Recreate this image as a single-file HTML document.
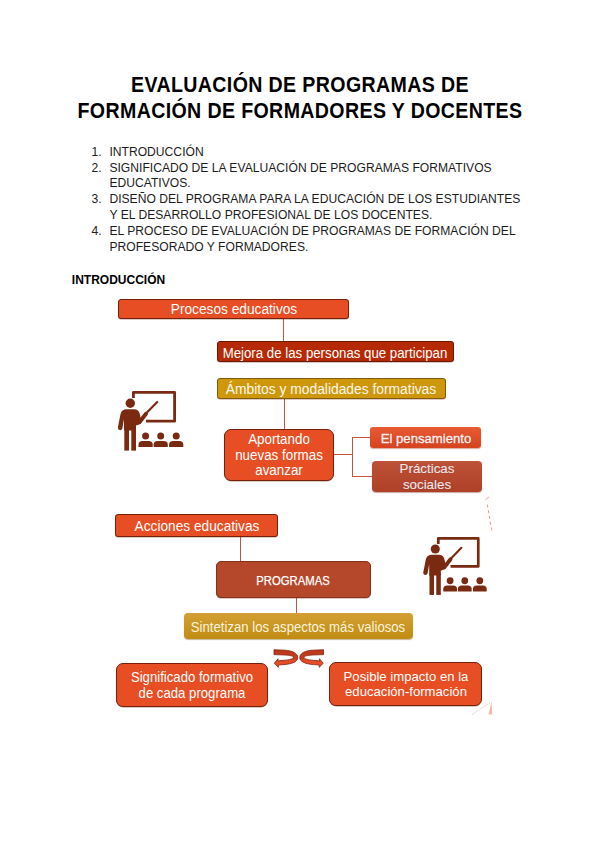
<!DOCTYPE html>
<html><head><meta charset="utf-8">
<style>
html,body{margin:0;padding:0;background:#fff;}
body{width:600px;height:848px;position:relative;overflow:hidden;font-family:"Liberation Sans",sans-serif;color:#000;}
.a{position:absolute;white-space:nowrap;}
.title{position:absolute;left:0;width:600px;text-align:center;font-weight:bold;font-size:22px;line-height:26px;top:71.8px;transform:scaleX(0.89);letter-spacing:0.42px;}
.li{position:absolute;color:#1c1c1c;font-size:12.1px;line-height:15.8px;white-space:nowrap;letter-spacing:0.02px;}
.num{position:absolute;color:#1c1c1c;font-size:12.1px;line-height:15.8px;left:91.6px;}
.box{position:absolute;box-sizing:border-box;}
.tl{position:absolute;width:600px;text-align:center;white-space:nowrap;}
.ln{position:absolute;background:#C5553A;}
</style></head>
<body>
<div class="title">EVALUACIÓN DE PROGRAMAS DE<br>FORMACIÓN DE FORMADORES Y DOCENTES</div>

<div class="num" style="top:144.8px">1.</div><div class="li" style="left:109.4px;top:144.8px">INTRODUCCIÓN</div>
<div class="num" style="top:160.6px">2.</div><div class="li" style="left:109.4px;top:160.6px">SIGNIFICADO DE LA EVALUACIÓN DE PROGRAMAS FORMATIVOS<br>EDUCATIVOS.</div>
<div class="num" style="top:192.2px">3.</div><div class="li" style="left:109.4px;top:192.2px">DISEÑO DEL PROGRAMA PARA LA EDUCACIÓN DE LOS ESTUDIANTES<br>Y EL DESARROLLO PROFESIONAL DE LOS DOCENTES.</div>
<div class="num" style="top:223.8px">4.</div><div class="li" style="left:109.4px;top:223.8px">EL PROCESO DE EVALUACIÓN DE PROGRAMAS DE FORMACIÓN DEL<br>PROFESORADO Y FORMADORES.</div>

<div class="a" style="left:71.8px;top:272.8px;font-size:12px;line-height:15px;font-weight:bold">INTRODUCCIÓN</div>

<div class="ln" style="left:283px;top:318px;width:1px;height:24px"></div>
<div class="ln" style="left:283.5px;top:398px;width:1px;height:31px"></div>
<div class="ln" style="left:334px;top:453.5px;width:18px;height:1px"></div>
<div class="ln" style="left:351.5px;top:437px;width:1px;height:40px"></div>
<div class="ln" style="left:352px;top:437px;width:19px;height:1px"></div>
<div class="ln" style="left:352px;top:476px;width:20px;height:1px"></div>
<div class="ln" style="left:239.5px;top:536px;width:1px;height:25px"></div>
<div class="ln" style="left:296px;top:597px;width:1px;height:16px"></div>
<div class="box" style="left:118px;top:299px;width:231px;height:20px;background:#E84E24;border:1px solid #74200A;border-radius:3px;box-shadow:0 0.6px 0.6px rgba(90,25,5,.45);"></div>
<div class="box" style="left:216.8px;top:341.2px;width:237.4px;height:21.3px;background:#B52A04;border:1px solid #6A1806;border-radius:3px;box-shadow:0 0.6px 0.6px rgba(90,25,5,.45);"></div>
<div class="box" style="left:216.8px;top:378.1px;width:229px;height:20.5px;background:#CE970C;border:1px solid #7E5A0A;border-radius:3px;box-shadow:0 0.6px 0.6px rgba(90,25,5,.45);"></div>
<div class="box" style="left:224px;top:429px;width:110px;height:52px;background:#E84E24;border:1px solid #74200A;border-radius:7px;box-shadow:0 0.6px 0.6px rgba(90,25,5,.45);"></div>
<div class="box" style="left:370px;top:427px;width:111px;height:21px;background:linear-gradient(#E85A34,#D5431F);border-radius:3px;box-shadow:0 1px 1px rgba(150,50,20,.4);"></div>
<div class="box" style="left:371.5px;top:461px;width:110.5px;height:31px;background:linear-gradient(#BE5237,#AD4027);border-radius:4px;box-shadow:0 1px 1px rgba(120,40,20,.4);"></div>
<div class="box" style="left:115px;top:513.9px;width:162.9px;height:23.3px;background:#E84E24;border:1px solid #74200A;border-radius:3px;box-shadow:0 0.6px 0.6px rgba(90,25,5,.45);"></div>
<div class="box" style="left:215.5px;top:561px;width:155.3px;height:36.8px;background:#B5472A;border:1px solid #86301A;border-radius:5px;box-shadow:0 0.6px 0.6px rgba(90,25,5,.45);"></div>
<div class="box" style="left:184px;top:613px;width:228.6px;height:26px;background:linear-gradient(#D4A035,#C08C12);border-radius:4px;box-shadow:0 1px 1px rgba(120,80,0,.4);"></div>
<div class="box" style="left:115.5px;top:662.5px;width:152.5px;height:44px;background:#E84E24;border:1px solid #74200A;border-radius:7px;box-shadow:0 0.6px 0.6px rgba(90,25,5,.45);"></div>
<div class="box" style="left:328.9px;top:662px;width:153.1px;height:43.6px;background:#E84E24;border:1px solid #74200A;border-radius:7px;box-shadow:0 0.6px 0.6px rgba(90,25,5,.45);"></div>
<div class="tl" style="left:-66.50px;top:299.15px;font-size:14.58px;line-height:20px;transform:scaleX(0.940);color:#fff;">Procesos educativos</div>
<div class="tl" style="left:34.50px;top:342.66px;font-size:14.26px;line-height:20px;transform:scaleX(0.930);color:#fff;">Mejora de las personas que participan</div>
<div class="tl" style="left:31.40px;top:378.95px;font-size:14.86px;line-height:20px;transform:scaleX(0.930);color:#FFF9EC;">Ámbitos y modalidades formativas</div>
<div class="tl" style="left:-21.00px;top:429.41px;font-size:14.39px;line-height:20px;transform:scaleX(0.930);color:#fff;">Aportando</div>
<div class="tl" style="left:-21.00px;top:445.01px;font-size:14.39px;line-height:20px;transform:scaleX(0.930);color:#fff;">nuevas formas</div>
<div class="tl" style="left:-21.00px;top:460.21px;font-size:14.39px;line-height:20px;transform:scaleX(0.930);color:#fff;">avanzar</div>
<div class="tl" style="left:125.50px;top:428.50px;font-size:13.00px;line-height:20px;transform:scaleX(1.010);color:#FBEFEF;-webkit-text-stroke:0.35px #FBEFEF;text-shadow:0 0 1px rgba(120,30,10,.6);">El pensamiento</div>
<div class="tl" style="left:126.50px;top:459.13px;font-size:13.20px;line-height:20px;transform:scaleX(1.010);color:#F4E6EC;-webkit-text-stroke:0.15px #F4E6EC;text-shadow:0 0 1px rgba(90,20,10,.6);">Prácticas</div>
<div class="tl" style="left:126.50px;top:474.93px;font-size:13.20px;line-height:20px;transform:scaleX(1.010);color:#F4E6EC;-webkit-text-stroke:0.15px #F4E6EC;text-shadow:0 0 1px rgba(90,20,10,.6);">sociales</div>
<div class="tl" style="left:-103.50px;top:515.90px;font-size:14.72px;line-height:20px;transform:scaleX(0.930);color:#fff;">Acciones educativas</div>
<div class="tl" style="left:-7.50px;top:570.72px;font-size:12.65px;line-height:20px;transform:scaleX(0.895);color:#fff;-webkit-text-stroke:0.25px #fff;">PROGRAMAS</div>
<div class="tl" style="left:-1.70px;top:617.09px;font-size:14.17px;line-height:20px;transform:scaleX(0.930);color:#FCF4DE;">Sintetizan los aspectos más valiosos</div>
<div class="tl" style="left:-108.50px;top:667.29px;font-size:14.17px;line-height:20px;transform:scaleX(0.930);color:#fff;">Significado formativo</div>
<div class="tl" style="left:-108.50px;top:683.09px;font-size:14.17px;line-height:20px;transform:scaleX(0.930);color:#fff;">de cada programa</div>
<div class="tl" style="left:105.50px;top:666.80px;font-size:13.00px;line-height:20px;transform:scaleX(1.010);color:#fff;">Posible impacto en la</div>
<div class="tl" style="left:105.50px;top:681.70px;font-size:13.00px;line-height:20px;transform:scaleX(1.010);color:#fff;">educación-formación</div>
<svg width="600" height="848" viewBox="0 0 600 848" style="position:absolute;left:0;top:0">
<defs>
<linearGradient id="ag" x1="0" y1="0" x2="0" y2="1"><stop offset="0" stop-color="#BC361A"/><stop offset="0.5" stop-color="#C83D1C"/><stop offset="0.62" stop-color="#E24B26"/><stop offset="1" stop-color="#EA5229"/></linearGradient>
<g id="ic" fill="#7B2A12"><path d="M23.4 13 L23.4 7.4 L64.6 7.4 L64.6 36.2 L36 36.2" fill="none" stroke="#7B2A12" stroke-width="2.8" stroke-linejoin="round"/>
<circle cx="20.3" cy="18.3" r="4.7"/>
<path d="M16 24.3 L24 24.3 Q28.8 24.5 29.8 29 L31.4 36.5 Q31.5 39 29.2 39.4 L26 40.6 L26 45.5 L14 45.5 L14 34 L12.4 43.3 Q11.8 45.4 9.6 45.1 Q7.6 44.6 7.9 42.6 L10.4 29.5 Q11.4 24.6 16 24.3 Z"/>
<line x1="29.6" y1="37" x2="36" y2="28.8" stroke="#7B2A12" stroke-width="4" stroke-linecap="round"/>
<line x1="35" y1="29.5" x2="47.2" y2="17" stroke="#7B2A12" stroke-width="2.2" stroke-linecap="round"/>
<rect x="14.3" y="43" width="4.7" height="22.6"/>
<rect x="21.3" y="43" width="4.7" height="22.6"/>
<circle cx="35.6" cy="51" r="3.5"/><circle cx="50.7" cy="51" r="3.5"/><circle cx="66.2" cy="51" r="3.5"/>
<path d="M28.5 62.1 L28.5 59.6 Q28.5 55.9 32.5 55.9 L38.7 55.9 Q42.7 55.9 42.7 59.6 L42.7 62.1 Z"/>
<path d="M43.6 62.1 L43.6 59.6 Q43.6 55.9 47.6 55.9 L53.8 55.9 Q57.8 55.9 57.8 59.6 L57.8 62.1 Z"/>
<path d="M59.1 62.1 L59.1 59.6 Q59.1 55.9 63.1 55.9 L69.3 55.9 Q73.3 55.9 73.3 59.6 L73.3 62.1 Z"/></g>
</defs>
<use href="#ic" transform="translate(110,385)"/>
<use href="#ic" transform="translate(415.6,531.3) scale(0.97)"/>
<g id="arr"><path transform="translate(270,644)" fill="url(#ag)" stroke="#7E2210" stroke-width="0.8" d="M4 5.75 L15 6.2 C22 6.7 27.75 9 27.75 13.5 C27.75 17.8 22 19.9 14 20.6 L8.3 21 L8.3 23.3 L4.25 19.3 L8 14.75 L8 16.9 L14 16.3 C20 15.8 23.4 14.8 23.4 13.4 C23.4 12 20 11.3 15 11 L4 10.6 Z"/></g>
<use href="#arr" transform="translate(597.5,0) scale(-1,1)"/>
<line x1="487.3" y1="504.5" x2="491.8" y2="531" stroke="#E58E7C" stroke-width="0.9" stroke-dasharray="3.2 2.6"/>
<line x1="472" y1="714.5" x2="491.5" y2="702" stroke="#F0B0A0" stroke-width="0.8" stroke-dasharray="1.5 1"/>
<line x1="485.5" y1="499.5" x2="489" y2="497" stroke="#E8A090" stroke-width="0.9"/>
<path d="M491.5 701.5 L488.5 714.5 L492.3 714.5 Z" fill="#F4BBAA"/>
</svg>
</body></html>
